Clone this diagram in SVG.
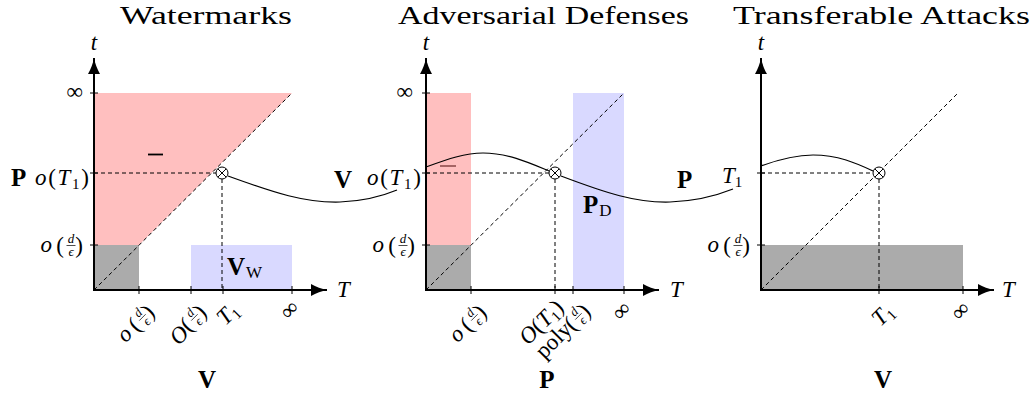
<svg xmlns="http://www.w3.org/2000/svg" xmlns:xlink="http://www.w3.org/1999/xlink" width="1036" height="398" viewBox="0 0 1036 398">
<style>
text{font-family:"Liberation Serif","DejaVu Serif",serif;fill:#000}
.m{font-size:23px}
.mi{font-size:23px;font-style:italic}
.i{font-style:italic}
.fr{font-size:13px;font-style:italic}
.b{font-size:25px;font-weight:bold}
.sub{font-size:17px}
.ttl{font-size:26px}
.ax{stroke:#000;stroke-width:2;fill:none}
.tk{stroke:#000;stroke-width:1}
.ds{stroke:#000;stroke-width:1;stroke-dasharray:4 3;fill:none}
.cv{stroke:#000;stroke-width:1.2;fill:none}
.bar{stroke:#000;stroke-width:0.7}
.red{fill:#ffbfbf}
.blue{fill:#d9d9ff}
.gray{fill:#ababab}
.ox circle{fill:#fff;stroke:#000;stroke-width:1}
.ox path{stroke:#000;stroke-width:1}
</style>
<defs>
<marker id="ah" markerUnits="userSpaceOnUse" markerWidth="18" markerHeight="14" refX="16" refY="7" orient="auto">
<path d="M0,1 C5,4 11,6 16,7 C11,8 5,10 0,13 Z" fill="#000"/>
</marker>
<g id="frac">
<text class="fr" x="-12" y="-4" text-anchor="middle">d</text>
<line class="bar" x1="-16.5" y1="-1.5" x2="-7.5" y2="-1.5"/>
<text class="fr" x="-12" y="8.5" text-anchor="middle">ϵ</text>
<text class="m" x="0" y="5.5" text-anchor="end">)</text>
<text class="m" x="-19" y="5.5" text-anchor="end">(</text>
</g>
<g id="odeps">
<use xlink:href="#frac"/>
<text class="mi" x="-31" y="5" text-anchor="end">o</text>
</g>
<g id="Odeps">
<use xlink:href="#frac"/>
<text class="mi" x="-27" y="7.5" text-anchor="end">O</text>
</g>
<g id="poly">
<use xlink:href="#frac"/>
<text class="m" x="-26" y="5" text-anchor="end">poly</text>
</g>
<g id="OT1">
<text class="m" x="0" y="7" text-anchor="end"><tspan class="i">O</tspan>(<tspan class="i">T</tspan><tspan font-size="15" dy="4">1</tspan><tspan dy="-4">)</tspan></text>
</g>
<g id="T1">
<text class="mi" x="0" y="7" text-anchor="end">T<tspan font-size="15" font-style="normal" dy="4">1</tspan></text>
</g>
<g id="inf">
<text class="m" x="0" y="6" text-anchor="end" font-size="25">∞</text>
</g>
<g id="ox" class="ox">
<circle r="6"/>
<path d="M-4.2,-4.2 L4.2,4.2 M-4.2,4.2 L4.2,-4.2"/>
</g>
</defs>
<rect width="1036" height="398" fill="#fff"/>

<!-- Panel 1: Watermarks -->
<g id="watermarks">
<text class="ttl" x="206" y="24" text-anchor="middle" textLength="172" lengthAdjust="spacingAndGlyphs">Watermarks</text>
<polygon class="red" points="94,93 292,93 139,245 94,245"/>
<rect class="gray" x="94" y="245" width="45" height="45"/>
<rect class="blue" x="191" y="245" width="101" height="45"/>
<line class="ds" x1="94" y1="290" x2="292" y2="93"/>
<line class="ds" x1="94" y1="173" x2="216" y2="173"/>
<line class="ds" x1="222" y1="179" x2="222" y2="290"/>
<line class="ax" x1="94" y1="291" x2="94" y2="58" marker-end="url(#ah)"/>
<line class="ax" x1="93" y1="290" x2="327" y2="290" marker-end="url(#ah)"/>
<path class="tk" d="M90,93H98M90,173H98M90,245H98M139,286V294M191,286V294M223,286V294M292,286V294"/>
<use xlink:href="#ox" x="222" y="173"/>
<line x1="148" y1="154.5" x2="163" y2="154.5" stroke="#000" stroke-width="1.8"/>
<text class="mi" x="94" y="50" text-anchor="middle" font-size="18">t</text>
<text class="mi" x="337" y="297" font-size="19">T</text>
<use xlink:href="#inf" x="83" y="93"/>
<text class="m" x="89" y="185" text-anchor="end" textLength="54" lengthAdjust="spacing"><tspan class="i">o</tspan>(<tspan class="i">T</tspan><tspan font-size="15" dy="4">1</tspan><tspan dy="-4">)</tspan></text>
<text class="b" x="11" y="186">P</text>
<use xlink:href="#odeps" x="83" y="247"/>
<g transform="translate(152,310) rotate(-45)"><use xlink:href="#odeps"/></g>
<g transform="translate(204,310) rotate(-45)"><use xlink:href="#Odeps"/></g>
<g transform="translate(235,307) rotate(-45)"><use xlink:href="#T1"/></g>
<g transform="translate(296,305) rotate(-45)"><use xlink:href="#inf"/></g>
<text class="b" x="227" y="275">V<tspan class="sub" font-weight="normal" dx="1" dy="3">W</tspan></text>
<text class="b" x="207" y="388" text-anchor="middle">V</text>
</g>

<!-- Panel 2: Adversarial Defenses -->
<g id="adversarial-defenses">
<text class="ttl" x="543.5" y="24" text-anchor="middle" textLength="291" lengthAdjust="spacingAndGlyphs">Adversarial Defenses</text>
<rect class="red" x="426" y="93" width="45" height="152"/>
<rect class="gray" x="426" y="245" width="45" height="45"/>
<rect class="blue" x="573" y="93" width="51" height="197"/>
<line class="ds" x1="426" y1="290" x2="624" y2="93"/>
<line class="ds" x1="426" y1="173" x2="549" y2="173"/>
<line class="ds" x1="555" y1="179" x2="555" y2="290"/>
<line class="ax" x1="426" y1="291" x2="426" y2="58" marker-end="url(#ah)"/>
<line class="ax" x1="425" y1="290" x2="659" y2="290" marker-end="url(#ah)"/>
<path class="tk" d="M422,93H430M422,173H430M422,245H430M471,286V294M555,286V294M573,286V294M624,286V294"/>
<use xlink:href="#ox" x="555" y="173"/>
<line x1="440" y1="166" x2="456" y2="166" stroke="#9c5a5a" stroke-width="1.8"/>
<text class="mi" x="426" y="50" text-anchor="middle" font-size="18">t</text>
<text class="mi" x="670" y="297" font-size="19">T</text>
<use xlink:href="#inf" x="413" y="93"/>
<text class="m" x="421" y="185" text-anchor="end" textLength="54" lengthAdjust="spacing"><tspan class="i">o</tspan>(<tspan class="i">T</tspan><tspan font-size="15" dy="4">1</tspan><tspan dy="-4">)</tspan></text>
<text class="b" x="334" y="188">V</text>
<use xlink:href="#odeps" x="415" y="247"/>
<g transform="translate(484,310) rotate(-45)"><use xlink:href="#odeps"/></g>
<g transform="translate(560,304) rotate(-45)"><use xlink:href="#OT1"/></g>
<g transform="translate(588,309) rotate(-45)"><use xlink:href="#poly"/></g>
<g transform="translate(628,306) rotate(-45)"><use xlink:href="#inf"/></g>
<text class="b" x="583" y="213">P<tspan class="sub" font-weight="normal" dx="1" dy="3">D</tspan></text>
<text class="b" x="547" y="388" text-anchor="middle">P</text>
</g>

<!-- Panel 3: Transferable Attacks -->
<g id="transferable-attacks">
<text class="ttl" x="881.5" y="24" text-anchor="middle" textLength="297" lengthAdjust="spacingAndGlyphs">Transferable Attacks</text>
<rect class="gray" x="761" y="245" width="202" height="45"/>
<line class="ds" x1="761" y1="290" x2="958" y2="93"/>
<line class="ds" x1="761" y1="173" x2="873" y2="173"/>
<line class="ds" x1="879" y1="179" x2="879" y2="290"/>
<line class="ax" x1="761" y1="291" x2="761" y2="58" marker-end="url(#ah)"/>
<line class="ax" x1="760" y1="290" x2="994" y2="290" marker-end="url(#ah)"/>
<path class="tk" d="M757,173H765M757,245H765M879,286V294M963,286V294"/>
<use xlink:href="#ox" x="879" y="173"/>
<text class="mi" x="761" y="50" text-anchor="middle" font-size="18">t</text>
<text class="mi" x="1002" y="297" font-size="19">T</text>
<text class="mi" x="722" y="183">T<tspan font-size="15" font-style="normal" dy="4">1</tspan></text>
<text class="b" x="677" y="188">P</text>
<use xlink:href="#odeps" x="750" y="247"/>
<g transform="translate(890,308) rotate(-45)"><use xlink:href="#T1"/></g>
<g transform="translate(967,306) rotate(-45)"><use xlink:href="#inf"/></g>
<text class="b" x="883" y="388" text-anchor="middle">V</text>
</g>

<!-- Connectors -->
<g id="connectors">
<path class="cv" d="M228,176 C275,193 305,203 340,202 C368,201 385,195 397,190"/>
<path class="cv" d="M426,167 C448,159 465,153 483,153 C508,153 530,163 549,171"/>
<path class="cv" d="M561,176 C606,193 636,203 670,202 C698,201 718,195 733,189"/>
<path class="cv" d="M761,166 C780,159 796,155 813,155 C838,155 856,163 873,171"/>
</g>
</svg>
